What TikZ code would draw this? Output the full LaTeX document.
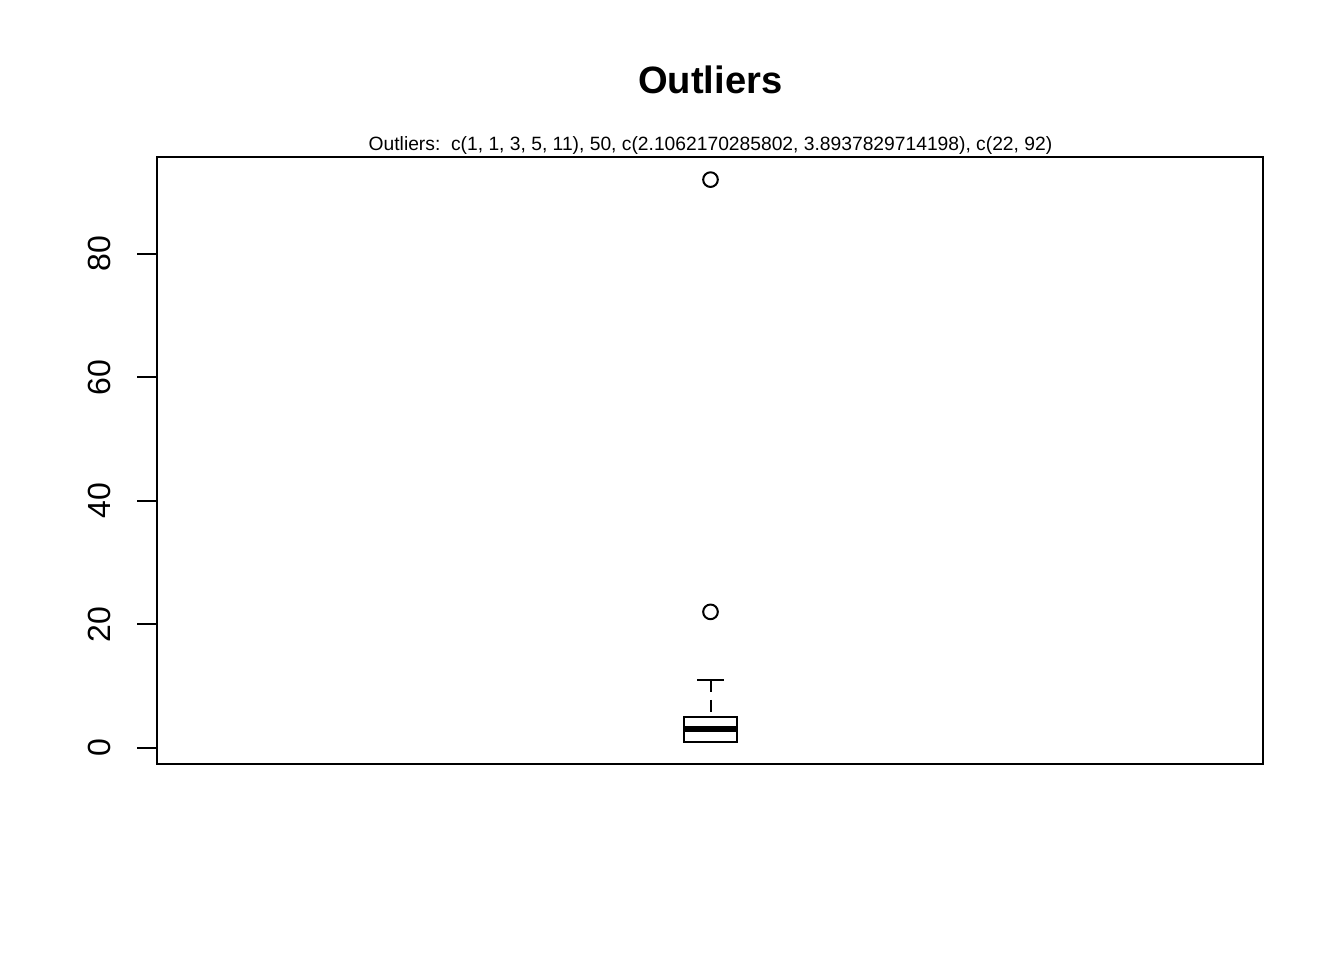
\documentclass[tikz,border=0pt]{standalone}
\usepackage{fontspec}
\setmainfont{Liberation Sans}

\begin{document}
\begin{tikzpicture}[x=0.375pt,y=0.375pt,line width=0.75pt,
  ticklab/.style={rotate=90,inner sep=0pt,font=\fontsize{12}{14}\selectfont},
  outlier/.style={draw,circle,minimum size=5.5pt,inner sep=0pt}]

\useasboundingbox (0,0) rectangle (1344,960);

% title and subtitle
\node[font=\fontsize{14.3}{16}\selectfont\bfseries] (title) at (710.2,880) {Outliers};
\node[anchor=base,inner sep=0pt,font=\fontsize{7.22}{8}\selectfont] (sub) at (710.5,810)
  {Outliers:\ \ c(1, 1, 3, 5, 11), 50, c(2.1062170285802, 3.8937829714198), c(22, 92)};

% plot frame
\coordinate (ll) at (157.3,196.3);
\coordinate (ur) at (1263,802.7);
\draw (ll) rectangle (ur);

\begin{scope}[yshift=79.6125pt,y=2.3156pt]
% y axis
\coordinate (t0) at (157.3,0);
\coordinate (t80) at (157.3,80);
\draw (t0) -- (t80);
\draw (t0) -- ++(-20,0);
\draw (157.3,20) -- ++(-20,0);
\draw (157.3,40) -- ++(-20,0);
\draw (157.3,60) -- ++(-20,0);
\draw (t80) -- ++(-20,0);
\node[ticklab] (l0) at (99.5,0) {0};
\node[ticklab] (l20) at (99.5,20) {20};
\node[ticklab] (l40) at (99.5,40) {40};
\node[ticklab] (l60) at (99.5,60) {60};
\node[ticklab] (l80) at (99.5,80) {80};

% box and whiskers
\coordinate (q1) at (710.5,1);
\coordinate (q3) at (710.5,5);
\coordinate (hi) at (710.5,11);
\draw (684,1) rectangle (737,5);
\draw[line width=2.1pt] (684,3) -- (737,3);
\draw[dash pattern=on 4.4pt off 3.1pt] (hi) -- (q3);
\draw (697,11) -- (724,11);
\draw (697,1) -- (724,1);

% outliers
\node[outlier] (o22) at (710.5,22) {};
\node[outlier] (o92) at (710.5,92) {};
\end{scope}

\end{tikzpicture}
\end{document}
